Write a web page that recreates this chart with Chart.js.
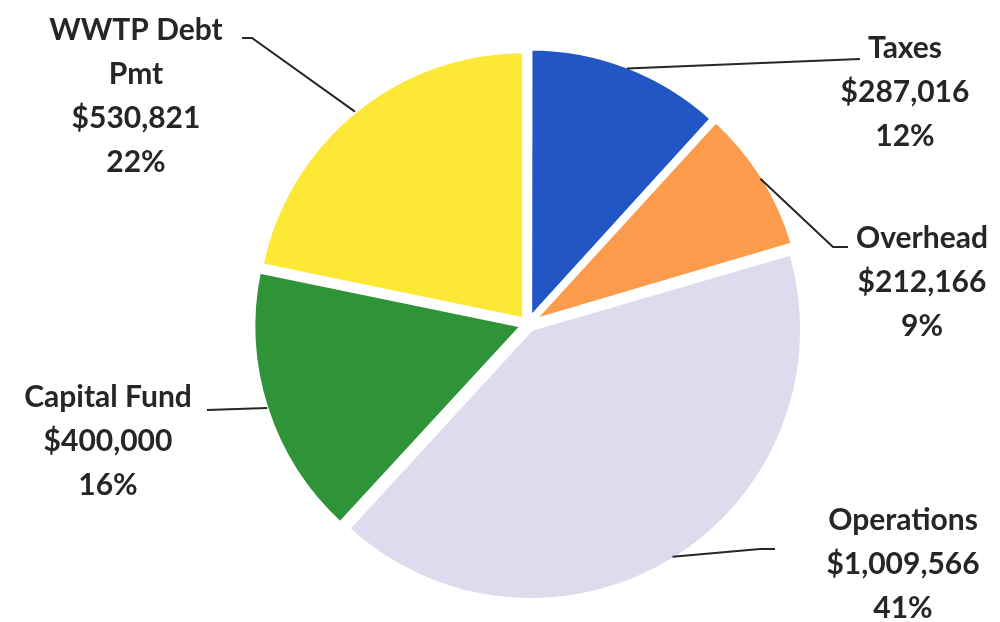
<!DOCTYPE html>
<html><head><meta charset="utf-8">
<script src="https://cdn.jsdelivr.net/npm/chart.js@4/dist/chart.umd.min.js"></script>
<style>html,body{margin:0;padding:0;background:#fff}#wrap{width:1000px;height:622px;position:relative}</style>
</head><body><div id="wrap"><canvas id="c" width="1000" height="622"></canvas></div>
<script>
const categories = ['Taxes', 'Overhead', 'Operations', 'Capital Fund', 'WWTP Debt Pmt'];
const categoryLines = [['Taxes'], ['Overhead'], ['Operations'], ['Capital Fund'], ['WWTP Debt', 'Pmt']];
const amounts = [287016, 212166, 1009566, 400000, 530821];
const sliceColors = ['#2256c4', '#fd9b4c', '#dcdcee', '#2f9438', '#fde835'];

// annotation placement for the data labels and their leader lines
const labelLayout = [
  {x: 905, y: 48,  path: [[860, 59]]},
  {x: 922, y: 238, path: [[833, 247], [848, 247]]},
  {x: 903, y: 520, path: [[760, 549], [775, 549]]},
  {x: 108, y: 397, path: [[207, 410]]},
  {x: 136, y: 30,  path: [[252, 38], [242, 38]]}
];

const total = amounts.reduce((a, b) => a + b, 0);

const labelPlugin = {
  id: 'pieLabels',
  afterDatasetsDraw(chart) {
    const ctx = chart.ctx;
    const meta = chart.getDatasetMeta(0);
    ctx.save();
    meta.data.forEach((arc, i) => {
      const p = arc.getProps(['x', 'y', 'startAngle', 'endAngle', 'outerRadius'], true);
      const mid = (p.startAngle + p.endAngle) / 2;
      const off = (arc.options.offset || 0) / 4;
      const r = p.outerRadius + off;
      const sx = p.x + Math.cos(mid) * r;
      const sy = p.y + Math.sin(mid) * r;
      const L = labelLayout[i];
      ctx.beginPath();
      ctx.moveTo(sx, sy);
      L.path.forEach(pt => ctx.lineTo(pt[0], pt[1]));
      ctx.strokeStyle = '#262626';
      ctx.lineWidth = 2;
      ctx.stroke();
      const lines = categoryLines[i].concat([
        '$' + amounts[i].toLocaleString('en-US'),
        Math.round(amounts[i] / total * 100) + '%'
      ]);
      ctx.fillStyle = '#262626';
      ctx.font = 'bold 30px Lato';
      ctx.textAlign = 'center';
      ctx.textBaseline = 'middle';
      lines.forEach((t, k) => ctx.fillText(t, L.x, L.y + k * 44));
    });
    ctx.restore();
  }
};

new Chart(document.getElementById('c'), {
  type: 'pie',
  data: {
    labels: categories,
    datasets: [{
      data: amounts,
      backgroundColor: sliceColors,
      borderColor: '#ffffff',
      borderWidth: 4,
      offset: 24
    }]
  },
  options: {
    responsive: false,
    animation: false,
    layout: {padding: {top: 42, bottom: 16, left: 246, right: 190}},
    plugins: {legend: {display: false}, tooltip: {enabled: false}}
  },
  plugins: [labelPlugin]
});
</script>
</body></html>
